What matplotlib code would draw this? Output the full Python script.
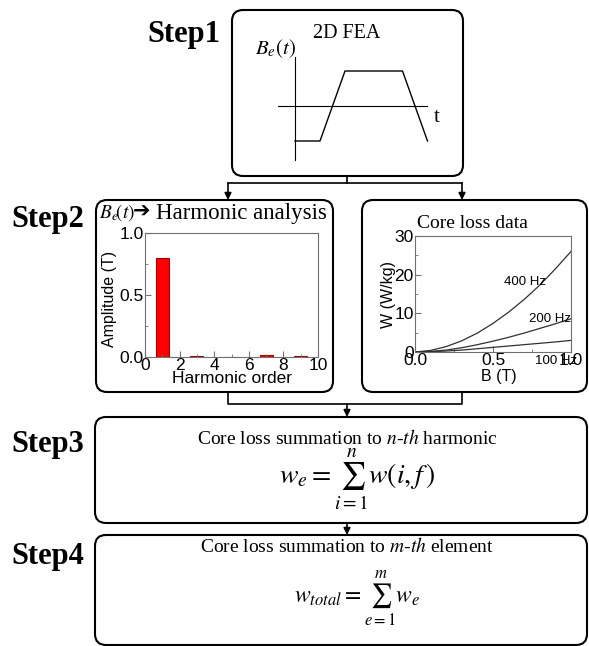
import matplotlib
matplotlib.use('Agg')
import matplotlib.pyplot as plt
from matplotlib.patches import FancyBboxPatch
from matplotlib.ticker import MultipleLocator

plt.rcParams['mathtext.fontset'] = 'stix'
serif = 'Liberation Serif'
sans = 'Liberation Sans'

# step 1: flux density waveform sketch from FEA
fea_t = [0, 1, 2, 4.3, 5.3]
fea_b = [-1, -1, 1, 1, -1]

# step 2: harmonic spectrum of B_e(t)
harm_order = [1, 3, 5, 7, 9]
harm_amp = [0.80, 0.005, 0.002, 0.02, 0.005]

# step 2: core loss data W(B) for each frequency
loss_b = [0.0, 0.1, 0.2, 0.3, 0.4, 0.5, 0.6, 0.7, 0.8, 0.9, 1.0]
loss_400 = [0.0, 0.4, 1.4, 2.9, 4.9, 7.4, 10.3, 13.6, 17.3, 21.5, 26.0]
loss_200 = [0.0, 0.15, 0.5, 1.1, 1.9, 2.8, 3.8, 4.9, 6.1, 7.3, 8.6]
loss_100 = [0.0, 0.08, 0.25, 0.5, 0.85, 1.2, 1.55, 1.9, 2.25, 2.6, 3.0]
freq_labels = ['400 Hz', '200 Hz', '100 Hz']

W, H = 589, 646
fig = plt.figure(figsize=(W / 100, H / 100), dpi=100)
base = fig.add_axes([0, 0, 1, 1])
base.set_xlim(0, W)
base.set_ylim(H, 0)
base.axis('off')


def box(x0, y0, x1, y1):
    base.add_patch(FancyBboxPatch((x0, y0), x1 - x0, y1 - y0,
                                  boxstyle='round,pad=0,rounding_size=11',
                                  fc='white', ec='black', lw=1.5))


def arrow(x, y0, y1):
    base.annotate('', xy=(x, y1), xytext=(x, y0),
                  arrowprops=dict(arrowstyle='-|>', color='black', lw=1.2,
                                  mutation_scale=10, shrinkA=0, shrinkB=0))


def frac(x0, y0, x1, y1):
    return [x0 / W, 1 - y1 / H, (x1 - x0) / W, (y1 - y0) / H]


# boxes
box(232, 10, 463, 176)
box(96, 200, 333, 392)
box(362, 200, 587, 392)
box(95, 417, 587, 523)
box(95, 535, 587, 645)

# connectors
base.plot([347, 347], [176, 183], color='black', lw=1.2)
base.plot([228, 462], [183, 183], color='black', lw=1.2)
arrow(228, 183, 200)
arrow(462, 183, 200)
base.plot([228, 228, 462, 462], [392, 404, 404, 392], color='black', lw=1.2)
arrow(347, 404, 417)
arrow(347, 523, 535)

# step labels
step_font = dict(fontsize=22, fontweight='bold', family=serif, va='baseline', ha='left')
base.text(147, 42, 'Step1', **step_font)
base.text(11, 227, 'Step2', **step_font)
base.text(11, 452, 'Step3', **step_font)
base.text(11, 564, 'Step4', **step_font)

# step 1 content
base.text(347, 34, '2D FEA', fontsize=14.5, family=serif, ha='center', va='center')
base.text(275, 49, r'$B_e(t)$', fontsize=15, ha='center', va='center')
base.text(437, 118, 't', fontsize=15, family=serif, ha='center', va='center')

fea = fig.add_axes(frac(270, 45, 445, 165))
fea.set_xlim(-1.0, 6.0)
fea.set_ylim(-1.686, 1.743)
fea.patch.set_alpha(0)
fea.plot(fea_t, fea_b, color='black', lw=1.0)
for s in ['top', 'right']:
    fea.spines[s].set_visible(False)
fea.spines['left'].set_position(('data', 0))
fea.spines['bottom'].set_position(('data', 0))
fea.spines['left'].set_bounds(-1.54, 1.4)
fea.spines['bottom'].set_bounds(-0.68, 5.28)
fea.set_xticks([])
fea.set_yticks([])

# step 2 left: harmonic analysis
base.text(99, 213, r'$B_e\!(t)$', fontsize=14, ha='left', va='center')
base.text(133, 212, '\u2794', fontsize=15, family='DejaVu Sans', ha='left', va='center')
base.text(156, 213, 'Harmonic analysis', fontsize=16.5, family=serif, ha='left', va='center')

gray = '#707070'
harm = fig.add_axes(frac(145, 233, 318, 357))
harm.bar(harm_order, harm_amp, width=0.75, color='#ff0000', edgecolor='#a00000', lw=0.8)
harm.set_xlim(0, 10)
harm.set_ylim(0, 1.0)
harm.set_xticks([0, 2, 4, 6, 8, 10])
harm.set_yticks([0, 0.5, 1.0])
harm.set_yticklabels(['0.0', '0.5', '1.0'])
harm.xaxis.set_minor_locator(MultipleLocator(1))
harm.yaxis.set_minor_locator(MultipleLocator(0.25))
harm.set_xlabel('Harmonic order', fontsize=12.5, family=sans)
harm.set_ylabel('Amplitude (T)', fontsize=11.5, family=sans)
harm.xaxis.set_label_coords(0.5, -0.11)
harm.yaxis.set_label_coords(-0.16, 0.47)

# step 2 right: core loss data
base.text(417, 223, 'Core loss data', fontsize=14, family=serif, ha='left', va='center')

core = fig.add_axes(frac(415, 236, 571, 352))
core.plot(loss_b, loss_400, color='#303030', lw=0.9)
core.plot(loss_b, loss_200, color='#303030', lw=0.9)
core.plot(loss_b, loss_100, color='#303030', lw=0.9)
core.text(0.57, 18.1, freq_labels[0], fontsize=9.5, family=sans, va='center')
core.text(0.73, 8.5, freq_labels[1], fontsize=9.5, family=sans, va='center')
core.text(0.77, -2.3, freq_labels[2], fontsize=9.5, family=sans, va='center', clip_on=False)
core.set_xlim(0, 1.0)
core.set_ylim(0, 30)
core.set_xticks([0, 0.5, 1.0])
core.set_xticklabels(['0.0', '0.5', '1.0'])
core.set_yticks([0, 10, 20, 30])
core.xaxis.set_minor_locator(MultipleLocator(0.25))
core.yaxis.set_minor_locator(MultipleLocator(5))
core.set_xlabel('B (T)', fontsize=11.5, family=sans)
core.set_ylabel('W (W/kg)', fontsize=11.5, family=sans)
core.xaxis.set_label_coords(0.54, -0.15)
core.yaxis.set_label_coords(-0.12, 0.5)

for ax in (harm, core):
    for s in ax.spines.values():
        s.set_color(gray)
        s.set_linewidth(0.8)
    ax.tick_params(which='both', direction='in', color=gray, top=False, right=False)
    ax.tick_params(which='major', length=4, labelsize=12.5, pad=1)
    ax.tick_params(which='minor', length=2)
    for lab in ax.get_xticklabels() + ax.get_yticklabels():
        lab.set_family(sans)

# step 3 and 4 content
base.text(347, 438, 'Core loss summation to $\\mathit{n}$-$\\mathit{th}$ harmonic',
          fontsize=14, family=serif, ha='center', va='center')
base.text(357, 480, r'$w_e = \sum_{i=1}^{n} w(i, f\,)$', fontsize=20, ha='center', va='center')
base.text(347, 547, 'Core loss summation to $\\mathit{m}$-$\\mathit{th}$ element',
          fontsize=14, family=serif, ha='center', va='center')
base.text(357, 599, r'$w_{total} = \sum_{e=1}^{m} w_e$', fontsize=17, ha='center', va='center')

fig.savefig('out.png', dpi=100)
